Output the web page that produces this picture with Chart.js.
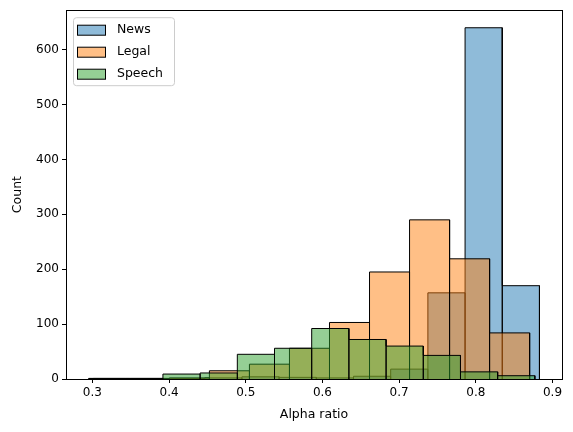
<!DOCTYPE html>
<html>
<head>
<meta charset="utf-8">
<script src="https://cdn.jsdelivr.net/npm/chart.js@4"></script>
<style>
  body { margin: 0; background: #fff; }
</style>
</head>
<body>
<canvas id="histChart" width="573" height="432"></canvas>
<script>
// bin edges and counts
const newsEdges = [0.301, 0.3495, 0.398, 0.4465, 0.495, 0.5435, 0.592, 0.6405, 0.689, 0.7375, 0.786, 0.8345, 0.883];
const newsCounts = [1, 1, 1, 2, 4, 3, 2, 5, 18, 157, 640, 170];
const legalEdges = [0.296, 0.3482, 0.4004, 0.4526, 0.5048, 0.557, 0.6092, 0.6614, 0.7136, 0.7658, 0.818, 0.8702];
const legalCounts = [1, 1, 2, 15, 27, 56, 103, 195, 290, 219, 84];
const speechEdges = [0.295, 0.3435, 0.392, 0.4405, 0.489, 0.5375, 0.586, 0.6345, 0.683, 0.7315, 0.78, 0.8285, 0.877];
const speechCounts = [1, 1, 9, 11, 45, 56, 92, 72, 60, 43, 13, 6];
const xTicks = [0.3, 0.4, 0.5, 0.6, 0.7, 0.8, 0.9];
const yTicks = [0, 100, 200, 300, 400, 500, 600];

const fontFamily = "'DejaVu Sans', sans-serif";

// turn bins into a closed step outline so every bar gets its edges
function histPoints(edges, counts) {
    const pts = [];
    counts.forEach((c, i) => {
        pts.push({x: edges[i], y: 0}, {x: edges[i], y: c}, {x: edges[i + 1], y: c}, {x: edges[i + 1], y: 0});
    });
    return pts;
}

function histDataset(label, edges, counts, fillColor, order) {
    return {
        label: label,
        data: histPoints(edges, counts),
        showLine: true,
        fill: 'origin',
        backgroundColor: fillColor,
        borderColor: '#000',
        borderWidth: 1,
        borderJoinStyle: 'miter',
        pointRadius: 0,
        pointHoverRadius: 0,
        order: order
    };
}

// box around the plot plus a framed legend in the upper left
const framePlugin = {
    id: 'frame',
    afterDraw(chart) {
        const ctx = chart.ctx;
        const a = chart.chartArea;
        ctx.save();
        ctx.strokeStyle = '#000';
        ctx.lineWidth = 1;
        ctx.strokeRect(Math.round(a.left) + 0.5, Math.round(a.top) + 0.5, Math.round(a.right - a.left), Math.round(a.bottom - a.top));

        const x0 = a.left + 7, y0 = a.top + 7, w = 101, h = 68;
        ctx.beginPath();
        ctx.roundRect(x0 + 0.5, y0 + 0.5, w, h, 3);
        ctx.fillStyle = 'rgba(255,255,255,0.8)';
        ctx.fill();
        ctx.strokeStyle = '#cccccc';
        ctx.stroke();

        ctx.font = '12.5px ' + fontFamily;
        ctx.textBaseline = 'middle';
        chart.data.datasets.forEach((ds, i) => {
            const cy = y0 + 13 + i * 22;
            ctx.fillStyle = ds.backgroundColor;
            ctx.fillRect(x0 + 4.5, cy - 5, 28, 10);
            ctx.strokeStyle = '#000';
            ctx.strokeRect(x0 + 4.5, cy - 5, 28, 10);
            ctx.fillStyle = '#000';
            ctx.fillText(ds.label, x0 + 44, cy);
        });
        ctx.restore();
    }
};

const ctx = document.getElementById('histChart');
const histChart = new Chart(ctx, {
    type: 'scatter',
    data: {
        datasets: [
            histDataset('News', newsEdges, newsCounts, 'rgba(31,119,180,0.5)', 3),
            histDataset('Legal', legalEdges, legalCounts, 'rgba(255,127,14,0.5)', 2),
            histDataset('Speech', speechEdges, speechCounts, 'rgba(44,160,44,0.5)', 1)
        ]
    },
    plugins: [framePlugin],
    options: {
        responsive: false,
        animation: false,
        layout: { padding: { top: 9, right: 11, left: 0, bottom: 0 } },
        plugins: {
            legend: { display: false },
            tooltip: { enabled: false }
        },
        scales: {
            x: {
                type: 'linear',
                min: 0.2656,
                max: 0.9124,
                afterBuildTicks: (scale) => { scale.ticks = xTicks.map(v => ({value: v})); },
                afterFit: (scale) => { scale.height = 53; },
                grid: { display: true, drawOnChartArea: false, drawTicks: true, tickLength: 4, color: '#000' },
                border: { display: true, color: '#000' },
                ticks: {
                    color: '#000',
                    padding: 3,
                    maxRotation: 0,
                    font: { family: fontFamily, size: 12 },
                    callback: (v) => v.toFixed(1)
                },
                title: {
                    display: true,
                    text: 'Alpha ratio',
                    color: '#000',
                    padding: { top: 4, bottom: 10 },
                    font: { family: fontFamily, size: 12.5 }
                }
            },
            y: {
                min: 0,
                max: 672,
                afterBuildTicks: (scale) => { scale.ticks = yTicks.map(v => ({value: v})); },
                afterFit: (scale) => { scale.width = 66; },
                grid: { display: true, drawOnChartArea: false, drawTicks: true, tickLength: 4, color: '#000' },
                border: { display: true, color: '#000' },
                ticks: {
                    color: '#000',
                    padding: 3,
                    font: { family: fontFamily, size: 12 }
                },
                title: {
                    display: true,
                    text: 'Count',
                    color: '#000',
                    padding: { top: 10, bottom: 4 },
                    font: { family: fontFamily, size: 12.5 }
                }
            }
        }
    }
});
</script>
</body>
</html>
